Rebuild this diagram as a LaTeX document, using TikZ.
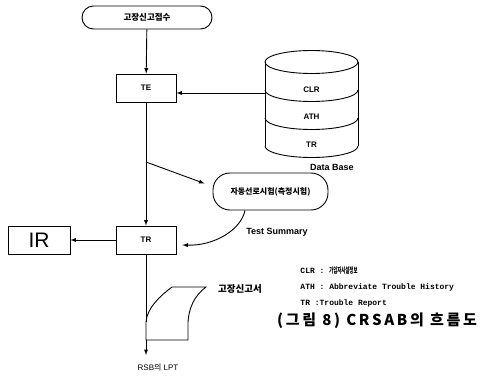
\documentclass[tikz,border=0pt]{standalone}
\usepackage{fontspec}
\usepackage{graphicx}
\setmainfont{Liberation Sans}
\newfontfamily\kofont{Noto Sans CJK KR}
\newfontfamily\monofont{Liberation Mono}
\newfontfamily\capfont{Noto Sans CJK KR}[LetterSpace=18.0]

\begin{document}
\begin{tikzpicture}[x=1pt, y=1pt, line width=0.9pt, >=latex,
	box/.style={draw, minimum width=60pt, minimum height=28pt, inner sep=0pt},
	term/.style={draw, rounded corners=#1, inner sep=0pt},
	lbl/.style={font=\fontsize{8}{9}\selectfont\bfseries, inner sep=0pt},
	ko/.style={font=\kofont\bfseries\fontsize{#1}{#1}\selectfont, inner sep=0pt}]
	\useasboundingbox (0,0) rectangle (483,376);

	% main flow
	\node[term=11.5pt, minimum width=130pt, minimum height=23pt, ko=8.5] (recv) at (147,358.5) {고장신고접수};
	\node[box, lbl] (te) at (146,288) {TE};
	\node[box, lbl] (tr) at (146,136) {TR};
	\node[draw, minimum width=62pt, minimum height=28pt, inner sep=0pt,
		font=\fontsize{21}{21}\selectfont\rmfamily] (ir) at (39,136) {IR};
	\node[term=17pt, minimum width=115pt, minimum height=37pt, ko=8] (test) at (270.5,184.5) {자동선로시험(측정시험)};

	\coordinate (split) at (146,214);
	\coordinate (dbin) at (265,283);
	\coordinate (lptin) at (146,54);
	\coordinate (lptout) at (146,36);
	\coordinate (lptend) at (146,21);

	\draw[->] (recv) -- (te);
	\draw[->] (te) -- (tr);
	\draw[->] (split) -- ([shift={(-8,8)}]test.west);
	\draw[->] ([xshift=-25.5pt]test.south) .. controls (241,146) and (214,130) .. ([shift={(6,-5)}]tr.east);
	\draw[->] (tr) -- (ir);
	\draw[->] (dbin) -- (dbin -| te.east);
	\node[lbl, font=\fontsize{9}{9}\selectfont\bfseries] (summ) at (277,144) {Test Summary};

	% data base
	\draw (311.5,314) ellipse (46.5 and 11.5);
	\draw (265,314) -- (265,230);
	\draw (358,314) -- (358,230);
	\foreach \lev in {286,258,230}
		\draw (265,\lev) arc (180:360:46.5 and 11.5);
	\node[lbl] (clr) at (311.5,286) {CLR};
	\node[lbl] (ath) at (311.5,259) {ATH};
	\node[lbl] (trd) at (311.5,231) {TR};
	\node[lbl, font=\fontsize{9}{9}\selectfont\bfseries] (dbase) at (332,209) {Data Base};

	% report sheet
	\draw (172,89) -- (206,89) .. controls (194,80) and (189,68) .. (188,54) -- (188,36) -- (146,36)
		-- (146,54) .. controls (147,68) and (160,80) .. (172,89);
	\draw (tr) -- (lptin);
	\draw[->] (lptout) -- (lptend);
	\node[ko=9.5] (sheet) at (240,87) {고장신고서};
	\node[inner sep=0pt, font=\fontsize{8}{8}\selectfont] (rsb) at (158,8) {RSB{\kofont 의} LPT};

	% legend
	\node[anchor=west, inner sep=0pt, align=left, font=\monofont\bfseries\fontsize{8}{16}\selectfont] (legend) at (300,89)
		{CLR : {\kofont\scalebox{0.55}[1]{가입자시설정보}}\\ATH : Abbreviate Trouble History\\TR :Trouble Report};
	\node[inner sep=0pt, font=\capfont\bfseries\fontsize{15}{15}\selectfont] (caption) at (377,55) {(그림 8) CRSAB의 흐름도};
\end{tikzpicture}
\end{document}
